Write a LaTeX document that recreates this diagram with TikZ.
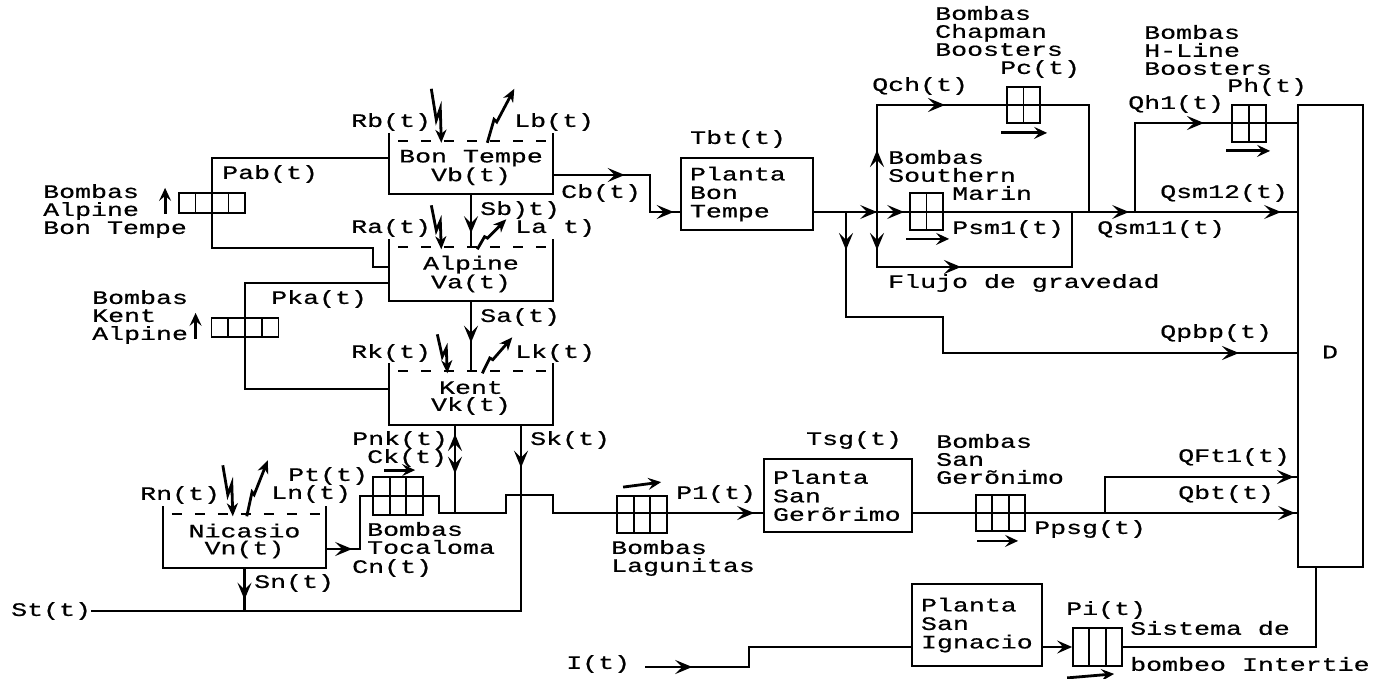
\documentclass[tikz,border=0pt]{standalone}
\usepackage{fontspec}
\setmonofont[FakeStretch=1.4,FakeBold=0.6]{Liberation Mono}
\usetikzlibrary{arrows.meta,calc,decorations.markings}
\begin{document}
\begin{tikzpicture}[x=1pt,y=-1pt,
  linea/.style={line width=2.1pt,line join=miter},
  flecha/.style={postaction={decorate,decoration={markings,
    mark=at position #1 with {\arrow{Stealth[length=17pt,width=14pt,inset=7pt]}}}}},
  sentido/.style={line width=2.8pt,-{Stealth[length=13pt,width=12pt,inset=5pt]}},
  rayo/.style={line width=2.8pt,-{Stealth[length=13pt,width=11pt,inset=4pt]}},
  etiq/.style={anchor=west,inner sep=0pt,align=left,font=\ttfamily\fontsize{19}{18}\selectfont},
  embalse/.style={inner sep=0pt,align=center,minimum width=163pt,minimum height=53pt,
    font=\ttfamily\fontsize{19}{17}\selectfont},
  planta/.style n args={2}{draw,line width=2.1pt,inner sep=0pt,align=left,
    minimum width=#1,minimum height=#2,text width=#1-18pt,
    font=\ttfamily\fontsize{19}{18.5}\selectfont},
  bomba/.style n args={3}{draw,line width=1.8pt,inner sep=0pt,minimum width=#2,minimum height=#3,
    path picture={\foreach \i in {0,...,#1}
      \draw[line width=1.8pt] ($(path picture bounding box.north west)!\i/#1!(path picture bounding box.north east)$)
        -- ($(path picture bounding box.south west)!\i/#1!(path picture bounding box.south east)$);}}]
\useasboundingbox (0,0) rectangle (1380,679);

\node[embalse] (bt) at (471,167.5) {Bon Tempe\\Vb(t)};
\node[embalse] (al) at (471,274) {Alpine\\Va(t)};
\node[embalse] (ke) at (471,398) {Kent\\Vk(t)};
\node[embalse] (ni) at (244.5,541) {Nicasio\\Vn(t)};
\foreach \n in {bt,al,ke,ni} {
  \draw[linea] ($(\n.north west)+(0,-8)$) -- (\n.south west) -- (\n.south east) -- ($(\n.north east)+(0,-8)$);
  \draw[linea,dash pattern=on 10pt off 13pt] ($(\n.north west)+(9,0)$) -- (\n.north east);
}
\foreach \n/\dx/\h in {bt/52/52,al/52/42,ke/58/37,ni/70/49} {
  \draw[rayo] ($(\n.north west)+({\dx-10},-\h)$) -- ++(5,0.6*\h) -- ++(4,-0.22*\h) -- ($(\n.north west)+(\dx,2)$);
}
\foreach \n/\dx/\w/\h in {bt/98/27/52,al/88/29/28,ke/93/30/34,ni/84/21/54} {
  \draw[rayo] ($(\n.north west)+(\dx,2)$) -- ++(0.25*\w,-0.45*\h) -- ++(0.1*\w,0.05*\h) -- ($(\n.north west)+(\dx+\w,-\h)$);
}

\node[planta={132pt}{72pt}] (pbt) at (747,194) {Planta\\Bon\\Tempe};
\node[planta={148pt}{73pt}] (sg) at (838,495.5) {Planta\\San\\Gerõrimo};
\node[planta={130pt}{82pt}] (si) at (977,625) {Planta\\San\\Ignacio};
\node[draw,line width=2.1pt,minimum width=65pt,minimum height=462pt,inner sep=0pt] (dem) at (1330.5,336) {};
\node[etiq,anchor=center] (ldem) at (1330,352) {D};

\node[bomba={4}{66pt}{20pt}] (pab) at (212,203) {};
\node[bomba={4}{67pt}{19pt}] (pka) at (245,327.5) {};
\node[bomba={3}{50pt}{38pt}] (ptoc) at (398,496) {};
\node[bomba={3}{50pt}{37pt}] (plag) at (642,514.5) {};
\node[bomba={3}{49pt}{36pt}] (psan) at (1000.5,513) {};
\node[bomba={3}{49pt}{38pt}] (ppi) at (1097.5,647) {};
\node[bomba={2}{33pt}{36pt}] (pcha) at (1023.5,105) {};
\node[bomba={2}{33pt}{37pt}] (psou) at (926.5,211.5) {};
\node[bomba={2}{34pt}{37pt}] (phl) at (1249,123.5) {};

\node[etiq] (lRb) at (351,122) {Rb(t)};
\node[etiq] (lLb) at (514,122) {Lb(t)};
\node[etiq] (lPab) at (222,174) {Pab(t)};
\node[etiq] (lBab) at (43,211) {Bombas\\Alpine\\Bon Tempe};
\node[etiq] (lCb) at (561,193) {Cb(t)};
\node[etiq] (lSb) at (480,210) {Sb)t)};
\node[etiq] (lRa) at (351,228) {Ra(t)};
\node[etiq] (lLa) at (515,228) {La t)};
\node[etiq] (lPka) at (271,299) {Pka(t)};
\node[etiq] (lBka) at (92,317) {Bombas\\Kent\\Alpine};
\node[etiq] (lSa) at (480,317) {Sa(t)};
\node[etiq] (lRk) at (351,353) {Rk(t)};
\node[etiq] (lLk) at (515,353) {Lk(t)};
\node[etiq] (lPnk) at (352,440) {Pnk(t)};
\node[etiq] (lCk) at (367,458) {Ck(t)};
\node[etiq] (lSk) at (530,440) {Sk(t)};
\node[etiq] (lPt) at (288,476) {Pt(t)};
\node[etiq] (lLn) at (271,494) {Ln(t)};
\node[etiq] (lRn) at (140,495) {Rn(t)};
\node[etiq] (lBto) at (367,538) {Bombas\\Tocaloma};
\node[etiq] (lCn) at (352,568) {Cn(t)};
\node[etiq] (lSn) at (254,583) {Sn(t)};
\node[etiq] (lSt) at (11,611) {St(t)};
\node[etiq] (lI) at (566,664) {I(t)};
\node[etiq] (lTbt) at (690,139) {Tbt(t)};
\node[etiq] (lQch) at (872,86) {Qch(t)};
\node[etiq] (lBch) at (935,31) {Bombas\\Chapman\\Boosters};
\node[etiq] (lPc) at (1000,69) {Pc(t)};
\node[etiq] (lBhl) at (1144,50) {Bombas\\H-Line\\Boosters};
\node[etiq] (lPh) at (1227,87) {Ph(t)};
\node[etiq] (lQh) at (1128,104) {Qh1(t)};
\node[etiq] (lBso) at (888,166) {Bombas\\Southern};
\node[etiq] (lMa) at (952,193) {Marin};
\node[etiq] (lPsm) at (952,229) {Psm1(t)};
\node[etiq] (lFg) at (888,283) {Flujo de gravedad};
\node[etiq] (lQs2) at (1160,193) {Qsm12(t)};
\node[etiq] (lQs1) at (1097,229) {Qsm11(t)};
\node[etiq] (lQp) at (1160,333) {Qpbp(t)};
\node[etiq] (lTsg) at (806,440) {Tsg(t)};
\node[etiq] (lBsg) at (936,459) {Bombas\\San\\Gerõnimo};
\node[etiq] (lP1) at (676,494) {P1(t)};
\node[etiq] (lBla) at (611,558) {Bombas\\Lagunitas};
\node[etiq] (lPp) at (1034,529) {Ppsg(t)};
\node[etiq] (lQf) at (1178,457) {QFt1(t)};
\node[etiq] (lQb) at (1178,494) {Qbt(t)};
\node[etiq] (lPi) at (1066,610) {Pi(t)};
\node[etiq] (lSi) at (1130,628) {Sistema de};
\node[etiq] (lBi) at (1130,664) {bombeo Intertie};

\coordinate (ukent) at (455,513);
\coordinate (upbp) at (846,212);
\coordinate (usou) at (877,212);
\coordinate (uhl) at (1135,212);
\coordinate (uft) at (1105,513);

\draw[linea] ($(bt.west)+(0,-9.5)$) -| (pab.center) -- ++(0,45) -- ++(161,0) -- ++(0,19) -- ($(al.west)+(0,-7)$);
\draw[linea] ($(al.west)+(0,9)$) -| (pka.center) |- ($(ke.west)+(0,-9)$);
\draw[linea,flecha=39pt] (bt.south) -- (al.north);
\draw[linea,flecha=42pt] (al.south) -- (ke.north);
\draw[linea,flecha=49pt] ($(ke.south)+(-16,0)$) -- (ukent);
\draw[linea,flecha=79pt] (ukent) -- ($(ke.south)+(-16,0)$);
\draw[linea,flecha=43pt] ($(ke.south)+(50,0)$) |- (lSt.east);
\draw[linea,flecha=32pt] (ni.south) -- (ni.south |- lSt.east);
\draw[linea,flecha=26pt,flecha=534pt] ($(ni.east)+(0,8)$) -- ++(34,0) -- ++(0,-53) -- ++(79,0) -- ++(0,17)
  -- ++(67,0) -- ++(0,-18) -- ++(47,0) -- ++(0,18) -- ($(sg.west)+(0,17.5)$);

\draw[linea,flecha=72pt,flecha=158pt] ($(bt.east)+(0,7.5)$) -- ++(97,0) -- ++(0,37) -- ($(pbt.west)+(0,18)$);
\draw[linea,flecha=63pt,flecha=90pt,flecha=315pt,flecha=467pt] ($(pbt.east)+(0,18)$) -- ($(dem.west)+(0,-124)$);
\draw[linea,flecha=38pt,flecha=534pt] (upbp) -- ++(0,105) -- ++(97,0) -- ++(0,36) -- ($(dem.west)+(0,17)$);
\draw[linea,flecha=62pt,flecha=175pt] (usou) -- ++(0,-107) -- ++(212,0) -- ++(0,107);
\draw[linea,flecha=38pt,flecha=139pt] (usou) -- ++(0,55) -- ++(195,0) -- ++(0,-55);
\draw[linea,flecha=158pt] (uhl) |- ($(dem.west)+(0,-213)$);

\draw[linea,flecha=382pt] ($(sg.east)+(0,17.5)$) -- ($(dem.west)+(0,177)$);
\draw[linea,flecha=225pt] (uft) |- ($(dem.west)+(0,141)$);
\draw[linea] ($(dem.south)+(-14.5,0)$) |- (ppi.east);
\draw[linea,-{Stealth[length=15pt,width=13pt,inset=6pt]}] ($(si.east)+(0,22)$) -- (ppi.west);
\draw[linea,flecha=47pt,flecha=286pt] ($(lI.east)+(15,3)$) -- ++(104,0) -- ++(0,-20) -- ($(si.west)+(0,22)$);

\draw[sentido] ($(pab.south west)+(-13,0)$) -- ++(0,-26);
\draw[sentido] ($(pka.south west)+(-15,1)$) -- ++(0,-26);
\draw[sentido] ($(ptoc.north west)+(12,-6)$) -- ++(31,0);
\draw[sentido] ($(plag.north west)+(7,-8)$) -- ++(38,-5);
\draw[sentido] ($(psan.south west)+(2,9)$) -- ++(41,0);
\draw[sentido] ($(ppi.south west)+(-5,11)$) -- ++(47,-4);
\draw[sentido] ($(pcha.south west)+(-5,9)$) -- ++(46,0);
\draw[sentido] ($(psou.south west)+(-3,8)$) -- ++(43,0);
\draw[sentido] ($(phl.south west)+(-5,8)$) -- ++(44,0);
\end{tikzpicture}
\end{document}
